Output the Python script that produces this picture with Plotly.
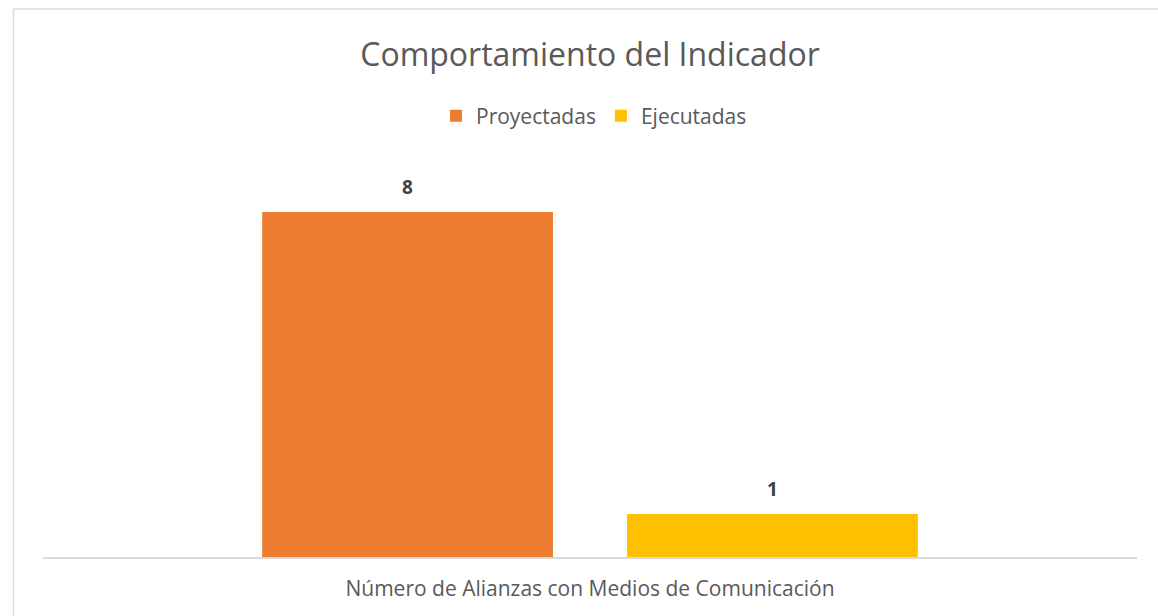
import plotly.graph_objects as go

categories = ["Número de Alianzas con Medios de Comunicación"]
series_names = ["Proyectadas", "Ejecutadas"]
proyectadas = [8]
ejecutadas = [1]
colors = ["#ED7D31", "#FFC000"]

W, H = 1158, 616
L, R, T, B = 43, 21, 169, 59
font_family = "Open Sans, Lato, sans-serif"
grey = "#595959"
BARGAP, GROUPGAP = 0.333, 0.203

fig = go.Figure()
series = [proyectadas, ejecutadas]
for name, vals, col in zip(series_names, series, colors):
    fig.add_trace(go.Bar(
        x=categories, y=vals, name=name, marker_color=col, marker_line_width=0,
    ))

pw = W - L - R
ph = H - T - B
slot = pw * (1 - BARGAP) / len(series)

annotations = []
for i, vals in enumerate(series):
    shift = (i - (len(series) - 1) / 2) * slot
    for c, v in zip(categories, vals):
        annotations.append(dict(
            x=c, y=v, xref="x", yref="y", text=f"<b>{v}</b>", showarrow=False,
            xshift=shift, yshift=25, yanchor="middle",
            font=dict(family=font_family, size=19, color="#404040"),
        ))

def px_x(px):
    return (px - L) / pw
def px_y(py):
    return (H - B - py) / ph

fig.update_layout(
    width=W, height=H,
    margin=dict(l=L, r=R, t=T, b=B),
    paper_bgcolor="white", plot_bgcolor="white",
    barmode="group", bargap=BARGAP, bargroupgap=GROUPGAP,
    title=dict(text="Comportamiento del Indicador", x=0.5, xref="paper", xanchor="center",
               y=1 - 55 / H, yanchor="middle",
               font=dict(family=font_family, size=32, color=grey)),
    legend=dict(orientation="h", x=0.5 + 4 / pw, xanchor="center", y=1 - 116 / H, yanchor="middle",
                yref="container", font=dict(family=font_family, size=21, color=grey),
                itemwidth=30, traceorder="normal"),
    showlegend=True,
    font=dict(family=font_family, color=grey),
    xaxis=dict(showline=True, linecolor="#D9D9D9", linewidth=2, ticks="", showgrid=False,
               tickfont=dict(family=font_family, size=21, color=grey),
               ticklabelstandoff=12),
    yaxis=dict(range=[0, 9], visible=False, showgrid=False, zeroline=False),
    annotations=annotations,
    shapes=[
        dict(type="line", xref="paper", yref="paper", x0=px_x(13.5), x1=px_x(1200),
             y0=px_y(9), y1=px_y(9), line=dict(color="#D9D9D9", width=1.5)),
        dict(type="line", xref="paper", yref="paper", x0=px_x(13.5), x1=px_x(13.5),
             y0=px_y(9), y1=px_y(700), line=dict(color="#D9D9D9", width=1.5)),
    ],
)

fig.write_html("out.html", config={"displayModeBar": False},
               post_script="document.body.style.margin='0';document.body.style.overflow='hidden';")
